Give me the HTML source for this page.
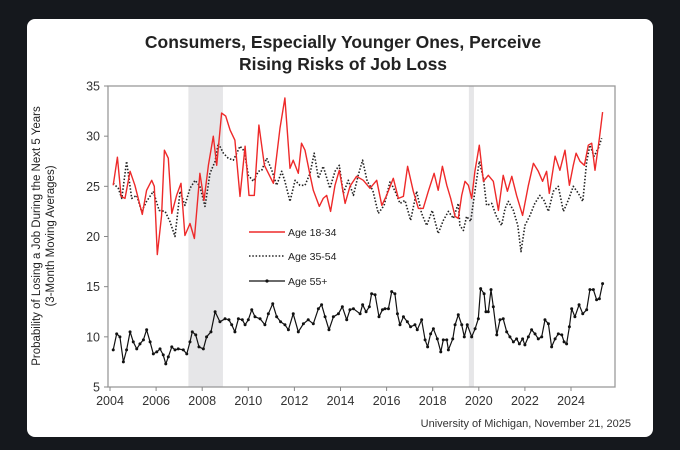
<!DOCTYPE html>
<html><head><meta charset="utf-8"><style>
body{margin:0;width:680px;height:450px;background:#15181d;overflow:hidden;font-family:"Liberation Sans",Arial,sans-serif}
#card{position:absolute;left:27px;top:19px;width:626px;height:418px;background:#fff;border-radius:8px}
svg{position:absolute;left:0;top:0}
</style></head><body>
<div id="card"></div>
<svg id="chart" width="680" height="450">
<text x="343" y="48" text-anchor="middle" font-size="17.5" font-weight="bold" fill="#222">Consumers, Especially Younger Ones, Perceive</text>
<text x="343" y="70" text-anchor="middle" font-size="17.5" font-weight="bold" fill="#222">Rising Risks of Job Loss</text>
<g transform="translate(40,236) rotate(-90)" font-size="11.5" fill="#222">
<text x="0" y="0" text-anchor="middle">Probability of Losing a Job During the Next 5 Years</text>
<text x="0" y="14" text-anchor="middle">(3-Month Moving Averages)</text>
</g>
<text x="631" y="427" text-anchor="end" font-size="11" fill="#333">University of Michigan, November 21, 2025</text>
<g id="plot"></g>
</svg>
<script>
const xTicks=[2004,2006,2008,2010,2012,2014,2016,2018,2020,2022,2024];
const yTicks=[5,10,15,20,25,30,35];
const recessions=[[2007.4,2008.9],[2019.57,2019.79]];
const youngYears=[
2004.14,2004.32,2004.48,2004.65,2004.87,2005.08,2005.40,2005.59,2005.81,2005.92,
2006.05,2006.24,2006.36,2006.53,2006.68,2006.89,2007.08,2007.25,2007.47,2007.66,
2007.90,2008.08,2008.27,2008.48,2008.63,2008.84,2009.02,2009.21,2009.42,2009.64,
2009.86,2010.03,2010.26,2010.46,2010.70,2010.87,2011.09,
2011.375,2011.59,2011.81,2011.95,2012.17,2012.31,2012.46,2012.68,2012.82,2013.08,
2013.25,2013.40,2013.57,2013.76,2013.95,2014.20,2014.41,2014.70,2014.99,2015.28,
2015.57,2015.79,2016.00,2016.29,2016.51,2016.73,2016.91,2017.16,2017.38,2017.59,
2017.81,2018.06,2018.24,2018.42,2018.61,2018.78,2018.97,2019.11,
2019.26,2019.40,2019.55,2019.69,2019.83,2020.02,2020.20,2020.41,2020.63,2020.85,
2021.06,2021.24,2021.43,2021.64,2021.90,2022.15,2022.37,2022.58,2022.77,2022.94,
2023.06,2023.31,2023.52,2023.74,2023.93,2024.10,2024.22,2024.39,2024.58,2024.75,
2024.90,2025.04,2025.23,2025.37];
const youngVals=[
25.1,27.9,24,23.8,26.5,25.1,22.2,24.6,25.6,25,
18.2,22.1,28.6,27.8,22.3,24.1,25.3,20.1,21.3,19.8,
26.3,23.6,27.1,30,27.1,32.3,32,30.6,29.6,24,
29,24.1,24.1,31.1,27.1,26.3,25.3,
30.8,33.8,26.8,27.6,26.3,29.3,28.6,26.1,24.6,23,
23.8,24.1,22.5,25.1,26.6,23.3,25,26,25.6,24.8,
25.6,23.1,24.1,25.8,23.8,24,27,24.5,22.8,22.8,
24.5,26.3,24.6,27,25.1,23.8,22,21.8,
24.1,25.5,25.1,23.8,26.5,29.1,25.5,26.1,25.5,22.6,
26.1,24.5,26,24.1,22.1,25.1,27.3,26.5,25.5,26.5,
24.3,28,26.6,28.6,25.1,27.1,28.3,27.5,27.1,29.1,
29.3,26.6,29.8,32.4];
const midYears=[
2004.14,2004.36,2004.51,2004.72,2004.94,2005.16,2005.37,2005.59,2005.88,2006.13,
2006.39,2006.60,2006.82,2007.04,2007.25,2007.47,2007.69,2007.90,2008.12,2008.34,
2008.56,2008.70,2008.92,2009.13,2009.35,2009.50,2009.64,2009.83,2010.00,2010.22,
2010.44,2010.58,2010.80,2011.02,2011.23,2011.45,
2011.59,2011.81,2012.03,2012.24,2012.46,2012.68,2012.86,2013.04,2013.25,2013.54,
2013.76,2013.95,2014.12,2014.34,2014.56,2014.77,2014.96,2015.16,2015.40,2015.64,
2015.89,2016.15,2016.37,2016.58,2016.80,2017.04,2017.30,2017.52,2017.74,2017.98,
2018.24,2018.46,2018.68,2018.90,2019.11,
2019.18,2019.33,2019.47,2019.65,2019.83,2020.02,2020.20,2020.34,2020.56,2020.77,
2020.99,2021.14,2021.28,2021.50,2021.69,2021.83,2022.00,2022.22,2022.43,2022.65,
2022.83,2023.02,2023.23,2023.45,2023.67,2023.88,2024.10,2024.32,2024.51,2024.68,
2024.82,2025.00,2025.19,2025.33];
const midVals=[
25.3,24.8,23.8,27.5,23.8,24.1,22.5,23.5,24.5,22.6,
22.5,21.5,20,24.5,23.1,24.8,25.6,25,23,26.3,
27.5,29.3,28.3,27.8,27.6,28.3,29,28.5,26.1,25.5,
26.5,26.6,27.8,26.6,25.1,26.5,
25.5,23.5,25.6,25.1,25.1,26.3,28.3,25.8,27,24.8,
26.5,27.1,24.3,25.6,24.1,26.1,27.6,25.5,24.6,22.3,
23.1,25.5,24.5,23.3,23.6,21.6,24.5,22.3,21.1,22.6,
20.3,21.6,22.5,21.8,23.3,
21.1,20.6,22,21.5,24.5,27.5,25.8,23.1,23.3,22,
21.1,22.8,23.5,22.6,21.1,18.5,21.1,22.1,23.3,24.1,
23.6,22.5,24.5,25,22.5,23.6,25,24.3,23.5,27.5,
29.1,28,28.8,29.8];
const oldYears=[
2004.14,2004.29,2004.43,2004.58,2004.72,2004.87,2005.01,2005.16,2005.30,2005.45,
2005.59,2005.74,2005.88,2006.03,2006.17,2006.31,2006.42,2006.53,2006.68,2006.82,
2006.96,2007.18,2007.33,2007.47,2007.57,2007.72,2007.86,2008.05,2008.19,2008.38,
2008.56,2008.77,2008.99,2009.16,2009.28,2009.42,2009.57,2009.74,2009.86,2010.00,
2010.15,2010.29,2010.51,2010.72,2010.87,2011.06,2011.23,2011.40,2011.59,2011.74,
2011.95,2012.17,2012.39,2012.60,2012.82,2013.04,2013.18,2013.33,2013.50,2013.69,
2013.91,2014.08,2014.27,2014.41,2014.56,
2014.85,2014.96,2015.11,2015.25,2015.35,2015.50,2015.67,2015.82,2015.93,2016.08,
2016.22,2016.36,2016.47,2016.58,2016.73,2016.90,2017.04,2017.23,2017.33,2017.52,
2017.67,2017.78,2017.91,2018.03,2018.20,2018.35,2018.46,2018.61,2018.68,2018.87,
2018.97,2019.11,2019.26,2019.37,2019.50,2019.69,2019.84,2019.98,2020.08,2020.23,
2020.31,2020.41,2020.53,2020.63,2020.78,2020.92,2021.06,2021.21,2021.35,2021.50,
2021.64,2021.76,2021.90,2022.00,2022.15,2022.29,2022.44,2022.58,2022.73,2022.87,
2023.02,2023.16,2023.31,2023.45,2023.60,2023.70,2023.81,2023.93,2024.03,2024.17,
2024.35,2024.51,2024.68,2024.82,2024.97,2025.11,2025.23,2025.37];
const oldVals=[
8.7,10.3,10,7.5,8.7,10.5,9.5,8.8,9.3,9.7,
10.7,9.5,8.3,8.5,8.8,8.2,7.3,8,9,8.7,
8.8,8.7,8.3,9.5,10.5,10.2,9,8.8,10,10.5,
12.5,11.5,11.8,11.7,11.2,10.5,11.8,11.7,11.2,11.7,
12.7,12,11.8,11.2,12.3,13.3,12,11.5,11.2,10.7,
12.3,10.5,11.3,11.7,11.3,12.8,13.2,12,10.7,12,
12.3,13,11.7,12.7,12.8,
12.3,13.2,12.5,13,14.3,14.2,12,12.7,12.8,12.8,
14.5,14.3,12.3,11.2,12,11.5,11,11.2,10.7,11.7,
9.7,9,10.3,10.8,9.8,8.5,9.7,9.7,8.7,9.8,
11.2,12.2,11.2,10,11.2,10,10.8,11.8,14.8,14.3,
12.5,12.5,14.7,13,10.2,11.7,11.8,10.5,10,9.5,
9.8,9.3,9.8,9.2,10,10.7,10.3,9.8,10,11.7,
11.3,9,9.8,10.3,10.2,9.5,9.3,11,12.8,12,
13.2,12.3,12.7,14.7,14.7,13.7,13.8,15.3];

const NS='http://www.w3.org/2000/svg';
const L=108,R=615,T=86,B=387;
const xs=y=>110+(y-2004)*23.05;
const ys=v=>B-(v-5)*(B-T)/30;
const plot=document.getElementById('plot');
function mk(tag,attrs,parent){const e=document.createElementNS(NS,tag);for(const k in attrs)e.setAttribute(k,attrs[k]);(parent||plot).appendChild(e);return e;}
function pairs(xa,va){const n=Math.min(xa.length,va.length);const p=[];for(let i=0;i<n;i++)p.push([xa[i],va[i]]);return p.sort((a,b)=>a[0]-b[0]);}

recessions.forEach(r=>{
  const e=mk('rect',{x:xs(r[0]),y:T,width:xs(r[1])-xs(r[0]),height:B-T,fill:'#e6e6e8'});
  
  
});
const frame=mk('rect',{x:L,y:T,width:R-L,height:B-T,fill:'none',stroke:'#9a9a9a','stroke-width':1.3});


yTicks.forEach(v=>{
  mk('line',{x1:L-4,x2:L,y1:ys(v),y2:ys(v),stroke:'#888'});
  const t=mk('text',{x:L-8,y:ys(v)+4.5,'text-anchor':'end','font-size':12.5,fill:'#333'});
  t.textContent=v;
  
  
});
xTicks.forEach(v=>{
  mk('line',{x1:xs(v),x2:xs(v),y1:B,y2:B+4,stroke:'#888'});
  const t=mk('text',{x:xs(v),y:B+18,'text-anchor':'middle','font-size':12.5,fill:'#333'});
  t.textContent=v;
  
  
});
function line(xa,va,style,name){
  const p=pairs(xa,va);
  const d=p.map((q,i)=>(i?'L':'M')+xs(q[0]).toFixed(1)+','+ys(q[1]).toFixed(1)).join('');
  const e=mk('path',Object.assign({d:d,fill:'none','stroke-linejoin':'round'},style));
  
  
  return p;
}
line(midYears,midVals,{stroke:'#222','stroke-width':1.6,'stroke-dasharray':'1.5,1.8'},'series-age-35-54');
line(youngYears,youngVals,{stroke:'#ee2a2a','stroke-width':1.4},'series-age-18-34');
const op=line(oldYears,oldVals,{stroke:'#111','stroke-width':1.2},'series-age-55-plus');
op.forEach(q=>{
  const c=mk('circle',{cx:xs(q[0]),cy:ys(q[1]),r:1.5,fill:'#111'});
  
  
});
const lg=[['Age 18-34',{stroke:'#ee2a2a','stroke-width':1.4},232],['Age 35-54',{stroke:'#222','stroke-width':1.6,'stroke-dasharray':'1.5,1.8'},256],['Age 55+',{stroke:'#111','stroke-width':1.2},281]];
lg.forEach((g,i)=>{
  const grp=mk('g',{});
  
  
  mk('line',Object.assign({x1:249,x2:285,y1:g[2],y2:g[2]},g[1]),grp);
  if(i==2) mk('circle',{cx:267,cy:g[2],r:1.6,fill:'#111'},grp);
  const t=mk('text',{x:288,y:g[2]+4,'font-size':10.5,fill:'#222'},grp);
  t.textContent=g[0];
});
</script>
</body></html>
